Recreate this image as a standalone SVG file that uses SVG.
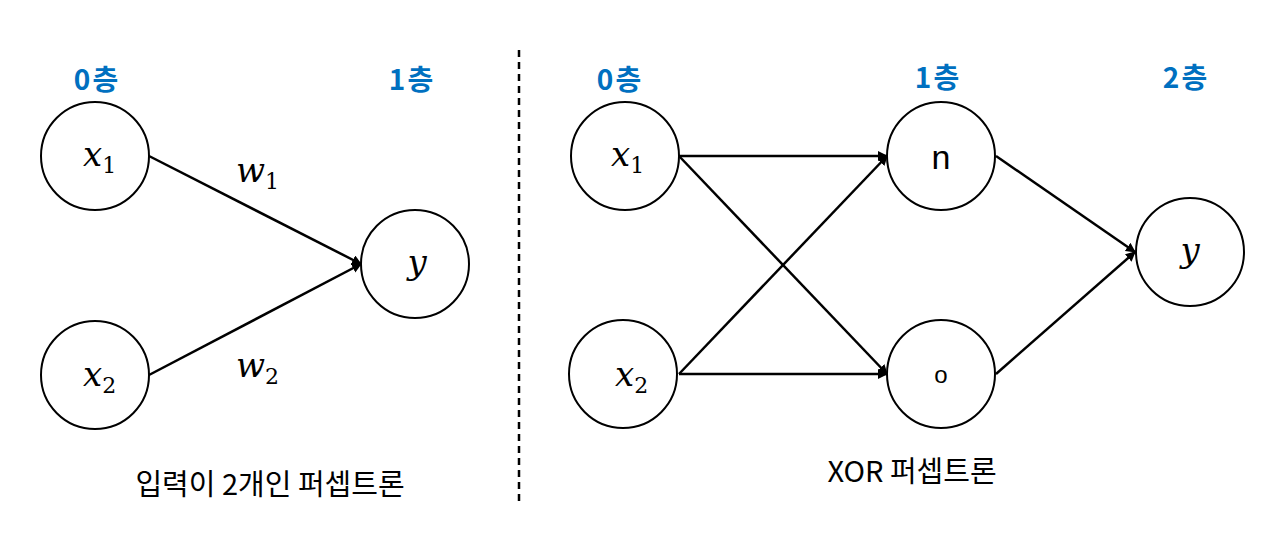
<svg xmlns="http://www.w3.org/2000/svg" width="1265" height="538" viewBox="0 0 1265 538">
<style>
.node{fill:#fff;stroke:#000;stroke-width:2}
.layer{font-family:"Noto Sans CJK KR","Noto Sans",sans-serif;font-weight:bold;font-size:28px;letter-spacing:2px;fill:#0070C0;text-anchor:middle}
.math{font-family:"DejaVu Serif",serif;font-style:italic;font-size:34px;fill:#000}
.sub{font-family:"DejaVu Serif",serif;font-style:normal;font-size:22px}
.cap{font-family:"Noto Sans CJK KR","Noto Sans",sans-serif;font-size:29px;fill:#000;text-anchor:middle}
.lbl{font-family:"Liberation Sans",sans-serif;font-size:34px;fill:#000;text-anchor:middle}
.edge{stroke:#000;stroke-width:2.5;fill:none;marker-end:url(#arr)}
</style>
<defs>
<marker id="arr" viewBox="0 0 10 10" refX="9" refY="5" markerWidth="4" markerHeight="4" orient="auto" markerUnits="strokeWidth">
<path d="M0,0 L10,5 L0,10 z" fill="#000"/>
</marker>
</defs>
<rect width="1265" height="538" fill="#fff"/>
<line x1="519" y1="50" x2="519" y2="505" stroke="#000" stroke-width="2.5" stroke-dasharray="7,5"/>
<g id="labels">
<text class="layer" x="97" y="90">0층</text>
<text class="layer" x="412" y="90">1층</text>
<text class="layer" x="620" y="90">0층</text>
<text class="layer" x="938" y="88">1층</text>
<text class="layer" x="1186" y="88">2층</text>
<text class="cap" x="270" y="495">입력이 2개인 퍼셉트론</text>
<text class="cap" x="912" y="482">XOR 퍼셉트론</text>
<text class="math" x="236" y="182">w<tspan class="sub" dy="7">1</tspan></text>
<text class="math" x="236" y="377">w<tspan class="sub" dy="7">2</tspan></text>
</g>
<g id="connectors">
<line class="edge" x1="149" y1="156" x2="361" y2="264"/>
<line class="edge" x1="149" y1="375" x2="361" y2="264"/>
<line class="edge" x1="679" y1="156" x2="887" y2="156"/>
<line class="edge" x1="679" y1="156" x2="887" y2="374"/>
<line class="edge" x1="679" y1="374" x2="887" y2="156"/>
<line class="edge" x1="679" y1="374" x2="887" y2="374"/>
<line class="edge" x1="996" y1="156" x2="1135" y2="252"/>
<line class="edge" x1="996" y1="374" x2="1135" y2="252"/>
</g>
<g id="L_x1"><circle class="node" cx="95" cy="156" r="54"/><text class="math" x="83" y="166">x<tspan class="sub" dy="7">1</tspan></text></g>
<g id="L_x2"><circle class="node" cx="95" cy="375" r="54"/><text class="math" x="83" y="386">x<tspan class="sub" dy="7">2</tspan></text></g>
<g id="L_y"><circle class="node" cx="415" cy="264" r="54"/><text class="math" x="417" y="274" text-anchor="middle">y</text></g>
<g id="R_x1"><circle class="node" cx="625" cy="156" r="54"/><text class="math" x="611" y="166">x<tspan class="sub" dy="7">1</tspan></text></g>
<g id="R_x2"><circle class="node" cx="623" cy="374" r="54"/><text class="math" x="615" y="386">x<tspan class="sub" dy="7">2</tspan></text></g>
<g id="R_n"><circle class="node" cx="941" cy="156" r="54"/><text class="lbl" x="941" y="169">n</text></g>
<g id="R_o"><circle class="node" cx="941" cy="374" r="54"/><text class="lbl" x="941" y="383" style="font-size:24px">o</text></g>
<g id="R_y"><circle class="node" cx="1190" cy="252" r="54"/><text class="math" x="1190" y="262" text-anchor="middle">y</text></g>
</svg>
